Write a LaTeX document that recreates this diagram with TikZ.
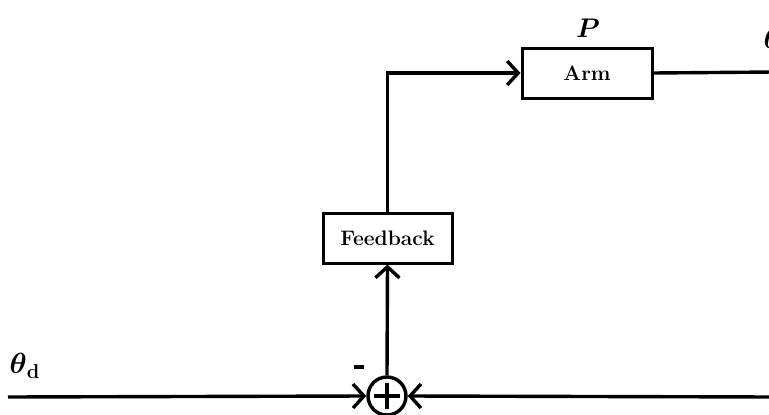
\documentclass[tikz,border=0pt]{standalone}
\usepackage{graphicx}
\usepackage{amsmath}
\usetikzlibrary{arrows.meta}
\begin{document}
\begin{tikzpicture}[x=1pt,y=-1pt,
  line width=3.4pt,
  blk/.style={draw,rectangle,inner sep=0pt,line width=3pt,font=\fontsize{21}{24}\selectfont\bfseries},
  sumc/.style={draw,circle,inner sep=0pt,minimum size=38pt},
  barb/.style={-{Straight Barb[length=11pt,width=24pt,line width=3.4pt]}},
  lbl/.style={inner sep=0pt,font=\fontsize{20}{24}\selectfont}
]
\useasboundingbox (0,0) rectangle (769,415);
\node[sumc] (sum) at (387,396) {};
\draw (sum.center) ++(-13,0) -- ++(26,0);
\draw (sum.center) ++(0,-13) -- ++(0,26);
\node[blk,minimum width=129pt,minimum height=50pt] (fb) at (387.5,238) {Feedback};
\node[blk,minimum width=130pt,minimum height=50pt] (arm) at (587,73) {Arm};
\coordinate (in) at (8,397);
\coordinate (fbin) at (774,397);
\coordinate (corner) at (fb.north |- arm.west);
\coordinate (out) at (774,72);
\draw[barb] (in) -- (sum.west);
\draw[barb] (fbin) -- (sum.east);
\draw[barb] (sum.north) -- (fb.south);
\draw[barb] (fb.north) -- (corner) -- (arm.west);
\draw (arm.east) -- (out);
\node[lbl] (thd) at (25,366) {\scalebox{1.4}{$\boldsymbol{\theta}_{\mathbf{d}}$}};
\node[lbl] (minus) at (359,367) {\rule{10pt}{3.5pt}};
\node[lbl] (p) at (588,28) {\scalebox{1.3}{$\boldsymbol{P}$}};
\node[lbl,anchor=west] (th) at (762,38) {\scalebox{1.4}{$\boldsymbol{\theta}$}};
\end{tikzpicture}
\end{document}
